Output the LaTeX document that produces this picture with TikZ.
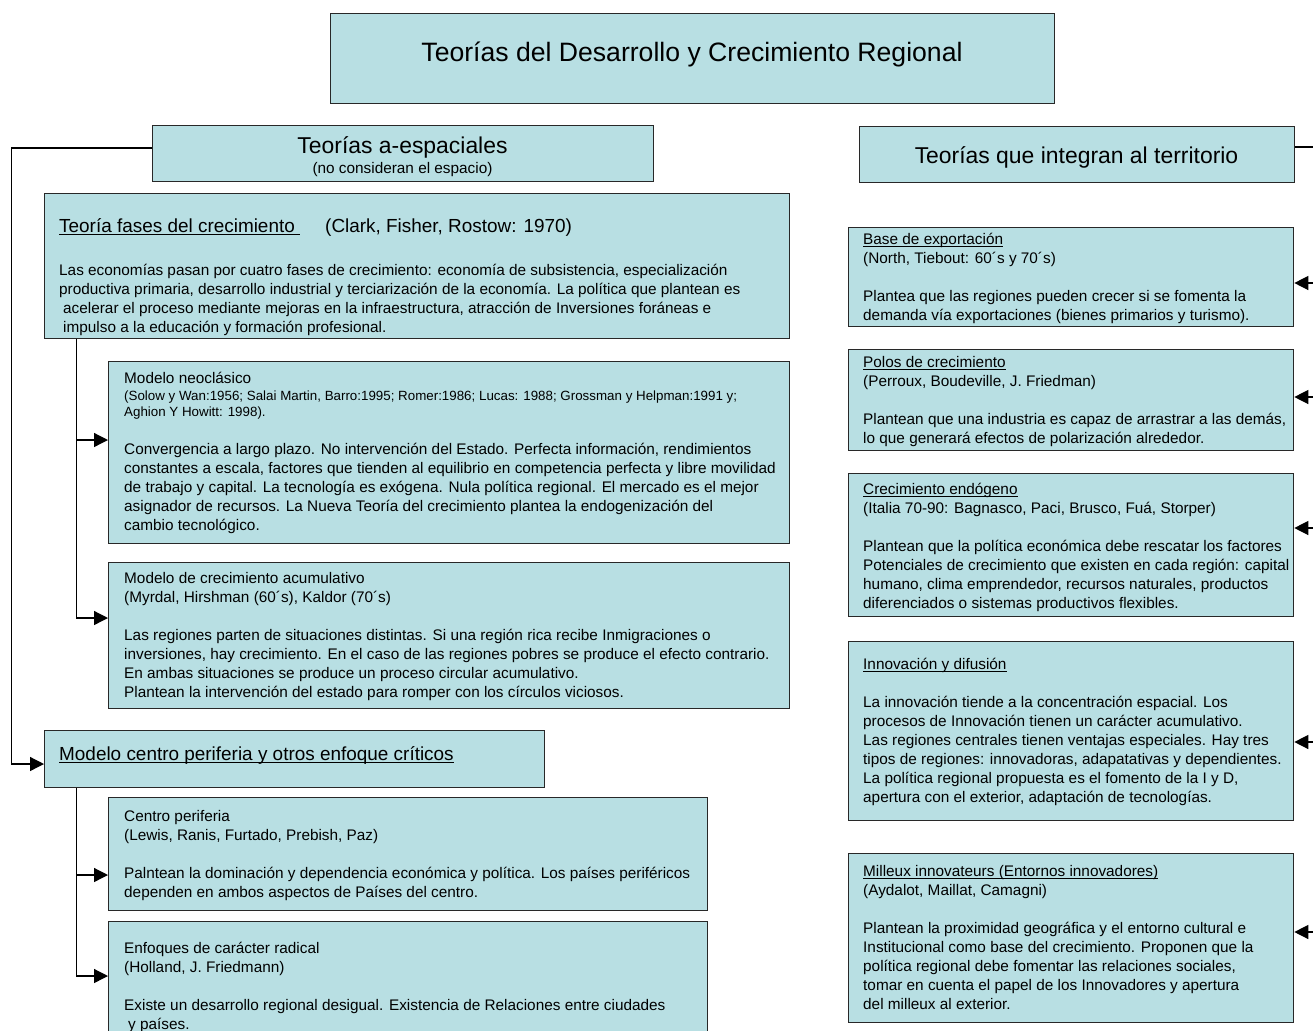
\documentclass[tikz,border=0pt]{standalone}
\usepackage{fontspec}
\setmainfont{Liberation Sans}
\usetikzlibrary{arrows.meta,calc}
\definecolor{boxfill}{RGB}{184,223,227}
\definecolor{boxline}{RGB}{40,40,40}
\newsavebox\ulbox
\newcommand\ulx[1]{\sbox\ulbox{#1}\rlap{\rule[-2.2pt]{\wd\ulbox}{0.9pt}}\usebox\ulbox}
\tikzset{
  box/.style={draw=boxline, line width=1.3bp, fill=boxfill, inner sep=0pt, anchor=north west},
  txt/.style={anchor=base west, align=left, inner sep=0pt, font=\fontsize{15.4}{19}\selectfont},
  cite/.style={anchor=base west, align=left, inner sep=0pt, font=\fontsize{13.4}{16}\selectfont},
  head/.style={anchor=base west, align=left, inner sep=0pt, font=\fontsize{19}{23}\selectfont},
  big/.style={anchor=base, inner sep=0pt, font=\fontsize{23}{27}\selectfont},
  conn/.style={draw=black, line width=1.3bp},
  arr/.style={conn, -{Triangle[length=14bp,width=14bp]}}
}
\newcommand\mybox[5]{\node[box, minimum width=#4bp, minimum height=#5bp] (#1) at (#2,#3) {};}
\begin{document}
\begin{tikzpicture}[x=1bp,y=-1bp]
\useasboundingbox (0,0) rectangle (1313,1030);
% boxes
\mybox{title}{330}{13}{724}{90}
\mybox{aesp}{152}{125}{501}{56}
\mybox{integ}{859}{126}{435}{56}
\mybox{fases}{44}{193}{745}{145}
\mybox{neo}{108}{361}{681}{182}
\mybox{acum}{108}{562}{681}{146}
\mybox{mcp}{44}{730}{500}{57}
\mybox{cper}{108}{797}{599}{113}
\mybox{enf}{108}{921}{599}{130}
\mybox{base}{848}{227}{445}{99}
\mybox{polos}{848}{349}{445}{101}
\mybox{endo}{848}{473}{445}{143}
\mybox{innov}{848}{641}{445}{179}
\mybox{mill}{848}{853}{445}{169}

% texts (multi-line nodes are anchored at the baseline of their last line)
\node[anchor=base, inner sep=0pt, font=\fontsize{26.7}{30}\selectfont] (titleT) at (692,61) {Teorías del Desarrollo y Crecimiento Regional};
\node[big] (aespT) at (402.5,153) {Teorías a-espaciales};
\node[anchor=base, inner sep=0pt, font=\fontsize{15.4}{19}\selectfont] (aespS) at (402.5,173.5) {(no consideran el espacio)};
\node[big] (integT) at (1076.5,163) {Teorías que integran al territorio};

\node[head] (fasesH) at (59,232.5) {\ulx{Teoría fases del crecimiento\ }};
\node[head] (fasesA) at (325,232.5) {(Clark, Fisher, Rostow: 1970)};
\node[txt] (fasesB) at (59,332.5) {Las economías pasan por cuatro fases de crecimiento: economía de subsistencia, especialización\\
productiva primaria, desarrollo industrial y terciarización de la economía. La política que plantean es\\
\hspace*{4bp}acelerar el proceso mediante mejoras en la infraestructura, atracción de Inversiones foráneas e\\
\hspace*{4bp}impulso a la educación y formación profesional.};

\node[txt] (neoH) at (124,383.5) {Modelo neoclásico};
\node[cite] (neoC) at (124,416) {(Solow y Wan:1956; Salai Martin, Barro:1995; Romer:1986; Lucas: 1988; Grossman y Helpman:1991 y;\\
Aghion Y Howitt: 1998).};
\node[txt] (neoB) at (124,530.5) {Convergencia a largo plazo. No intervención del Estado. Perfecta información, rendimientos\\
constantes a escala, factores que tienden al equilibrio en competencia perfecta y libre movilidad\\
de trabajo y capital. La tecnología es exógena. Nula política regional. El mercado es el mejor\\
asignador de recursos. La Nueva Teoría del crecimiento plantea la endogenización del\\
cambio tecnológico.};

\node[txt] (acumT) at (124,697.5) {Modelo de crecimiento acumulativo\\
(Myrdal, Hirshman (60´s), Kaldor (70´s)\\[19bp]
Las regiones parten de situaciones distintas. Si una región rica recibe Inmigraciones o\\
inversiones, hay crecimiento. En el caso de las regiones pobres se produce el efecto contrario.\\
En ambas situaciones se produce un proceso circular acumulativo.\\
Plantean la intervención del estado para romper con los círculos viciosos.};

\node[head] (mcpT) at (59,760.5) {\ulx{Modelo centro periferia y otros enfoque críticos}};

\node[txt] (cperT) at (124,897.5) {Centro periferia\\
(Lewis, Ranis, Furtado, Prebish, Paz)\\[19bp]
Palntean la dominación y dependencia económica y política. Los países periféricos\\
dependen en ambos aspectos de Países del centro.};

\node[txt] (enfT) at (124,1029) {Enfoques de carácter radical\\
(Holland, J. Friedmann)\\[19bp]
Existe un desarrollo regional desigual. Existencia de Relaciones entre ciudades\\
\hspace*{4bp}y países.};

\node[txt] (baseT) at (863,320.5) {\ulx{Base de exportación}\\
(North, Tiebout: 60´s y 70´s)\\[19bp]
Plantea que las regiones pueden crecer si se fomenta la\\
demanda vía exportaciones (bienes primarios y turismo).};

\node[txt] (polosT) at (863,443.5) {\ulx{Polos de crecimiento}\\
(Perroux, Boudeville, J. Friedman)\\[19bp]
Plantean que una industria es capaz de arrastrar a las demás,\\
lo que generará efectos de polarización alrededor.};

\node[txt] (endoT) at (863,608.5) {\ulx{Crecimiento endógeno}\\
(Italia 70-90: Bagnasco, Paci, Brusco, Fuá, Storper)\\[19bp]
Plantean que la política económica debe rescatar los factores\\
Potenciales de crecimiento que existen en cada región: capital\\
humano, clima emprendedor, recursos naturales, productos\\
diferenciados o sistemas productivos flexibles.};

\node[txt] (innovT) at (863,802.5) {\ulx{Innovación y difusión}\\[19bp]
La innovación tiende a la concentración espacial. Los\\
procesos de Innovación tienen un carácter acumulativo.\\
Las regiones centrales tienen ventajas especiales. Hay tres\\
tipos de regiones: innovadoras, adapatativas y dependientes.\\
La política regional propuesta es el fomento de la I y D,\\
apertura con el exterior, adaptación de tecnologías.};

\node[txt] (millT) at (863,1009.5) {\ulx{Milleux innovateurs (Entornos innovadores)}\\
(Aydalot, Maillat, Camagni)\\[19bp]
Plantean la proximidad geográfica y el entorno cultural e\\
Institucional como base del crecimiento. Proponen que la\\
política regional debe fomentar las relaciones sociales,\\
tomar en cuenta el papel de los Innovadores y apertura\\
del milleux al exterior.};

% left connectors
\coordinate (la) at (11.7,148);
\coordinate (lb) at (11.7,764);
\draw[arr] (la -| aesp.west) -- (la) -- (lb) -- (lb -| mcp.west);
\coordinate (fa) at (76.7,440);
\coordinate (fb) at (76.7,618);
\draw[arr] (fases.south -| fb) -- (fb) -- (fb -| acum.west);
\draw[arr] (fa) -- (fa -| neo.west);
\coordinate (ma) at (76.7,875);
\coordinate (mb) at (76.7,976);
\draw[arr] (mcp.south -| mb) -- (mb) -- (mb -| enf.west);
\draw[arr] (ma) -- (ma -| cper.west);

% right connectors
\coordinate (ra) at (1322,147);
\coordinate (r1) at (1322,283);
\coordinate (r2) at (1322,397);
\coordinate (r3) at (1322,528);
\coordinate (r4) at (1322,742);
\coordinate (r5) at (1322,932);
\draw[conn] (ra -| integ.east) -- (ra) -- (r5);
\draw[arr] (r1) -- (r1 -| base.east);
\draw[arr] (r2) -- (r2 -| polos.east);
\draw[arr] (r3) -- (r3 -| endo.east);
\draw[arr] (r4) -- (r4 -| innov.east);
\draw[arr] (r5) -- (r5 -| mill.east);
\end{tikzpicture}
\end{document}
